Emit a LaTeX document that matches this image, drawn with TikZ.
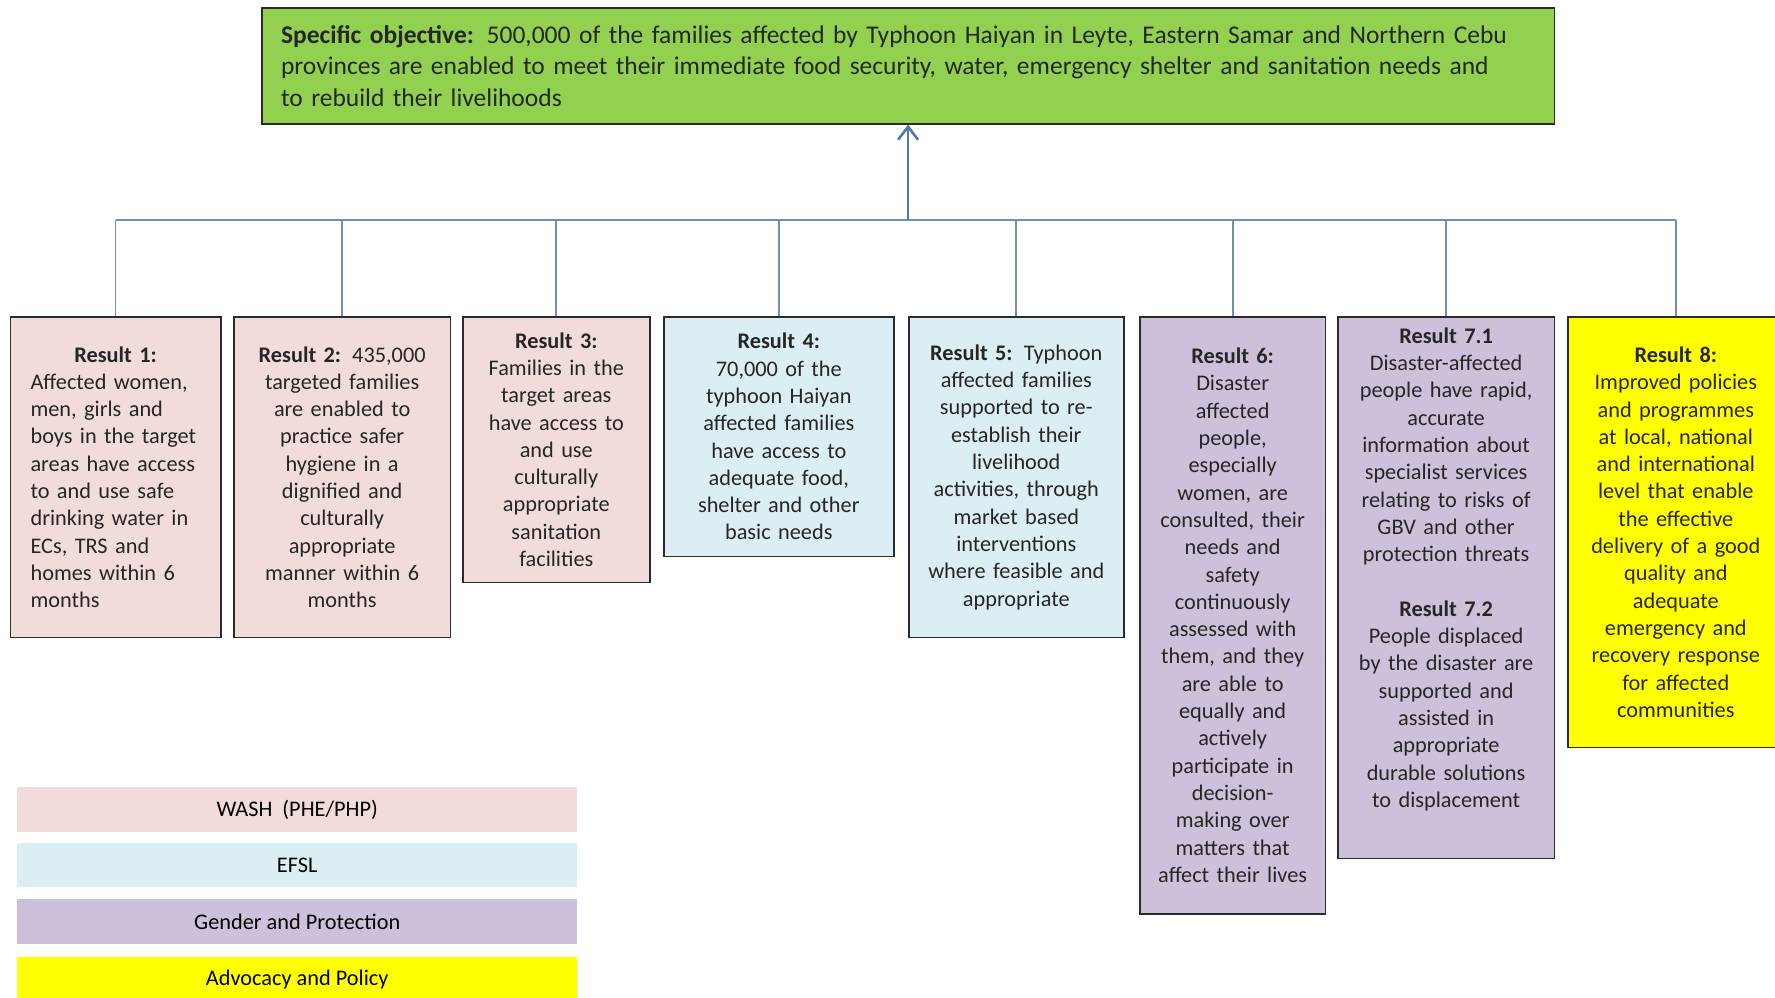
\documentclass[tikz,border=0pt]{standalone}
\usepackage{fontspec}
\setmainfont{Carlito}
\usetikzlibrary{arrows.meta}
\definecolor{objgreen}{HTML}{92D050}
\definecolor{wash}{HTML}{F2DCDB}
\definecolor{efsl}{HTML}{DBEEF4}
\definecolor{gender}{HTML}{CCC0DA}
\definecolor{advoc}{HTML}{FFFF00}
\definecolor{boxline}{HTML}{2B2B2B}
\definecolor{connblue}{HTML}{6F8FB5}
\definecolor{arrblue}{HTML}{4F77AA}
\definecolor{txt}{HTML}{262626}
\begin{document}
\begin{tikzpicture}[x=1pt,y=-1pt,
  box/.style={draw=boxline, line width=1.6pt, rectangle, anchor=north west,
    inner sep=0pt, align=center, text=txt,
    font=\fontsize{22.3}{27.3}\selectfont},
  leg/.style={rectangle, anchor=north west, inner sep=0pt, text=black,
    minimum width=560pt, font=\fontsize{22.3}{27.3}\selectfont},
  conn/.style={draw=connblue, line width=1.8pt},
  arr/.style={draw=arrblue, line width=2.6pt, -{Straight Barb[length=13pt,width=20pt,line width=2.6pt]}}
]
\useasboundingbox (0,0) rectangle (1775,998);

% objective
\node[box, fill=objgreen, minimum width=1292.5pt, minimum height=115.7pt,
  text width=1254pt, align=left, font=\fontsize{25.5}{31.5}\selectfont] (obj) at (261,7.3)
  {\textbf{Specific objective:} 500,000 of the families affected by Typhoon Haiyan in Leyte, Eastern Samar and Northern Cebu\\
   provinces are enabled to meet their immediate food security, water, emergency shelter and sanitation needs and\\
   to rebuild their livelihoods};

% results
\node[box, fill=wash, minimum width=210.5pt, minimum height=320.7pt, text width=170pt, align=left] (r1) at (9.5,316)
  {\makebox[\hsize][c]{\textbf{Result 1:}}\\Affected women,\\men, girls and\\boys in the target\\areas have access\\to and use safe\\drinking water in\\ECs, TRS and\\homes within 6\\months};
\node[box, fill=wash, minimum width=216.7pt, minimum height=320.7pt, text width=200pt] (r2) at (233,316)
  {\textbf{Result 2:} 435,000\\targeted families\\are enabled to\\practice safer\\hygiene in a\\dignified and\\culturally\\appropriate\\manner within 6\\months};
\node[box, fill=wash, minimum width=187pt, minimum height=265.7pt, text width=175pt] (r3) at (462,316)
  {\textbf{Result 3:}\\Families in the\\target areas\\have access to\\and use\\culturally\\appropriate\\sanitation\\facilities};
\node[box, fill=efsl, minimum width=230pt, minimum height=239.7pt, text width=215pt] (r4) at (663,316)
  {\textbf{Result 4:}\\70,000 of the\\typhoon Haiyan\\affected families\\have access to\\adequate food,\\shelter and other\\basic needs};
\node[box, fill=efsl, minimum width=215pt, minimum height=320.7pt, text width=205pt] (r5) at (908,316)
  {\textbf{Result 5:} Typhoon\\affected families\\supported to re-\\establish their\\livelihood\\activities, through\\market based\\interventions\\where feasible and\\appropriate};
\node[box, fill=gender, minimum width=185.7pt, minimum height=597pt, text width=178pt] (r6) at (1139,316)
  {\textbf{Result 6:}\\Disaster\\affected\\people,\\especially\\women, are\\consulted, their\\needs and\\safety\\continuously\\assessed with\\them, and they\\are able to\\equally and\\actively\\participate in\\decision-\\making over\\matters that\\affect their lives};
\node[box, fill=gender, minimum width=216.6pt, minimum height=541.7pt, text width=205pt] (r7) at (1337,316)
  {\textbf{Result 7.1}\\Disaster-affected\\people have rapid,\\accurate\\information about\\specialist services\\relating to risks of\\GBV and other\\protection threats\\[27.3pt]
   \textbf{Result 7.2}\\People displaced\\by the disaster are\\supported and\\assisted in\\appropriate\\durable solutions\\to displacement\\[13pt]\mbox{}};
\node[box, fill=advoc, minimum width=216pt, minimum height=430.7pt, text width=205pt] (r8) at (1567,316)
  {\textbf{Result 8:}\\Improved policies\\and programmes\\at local, national\\and international\\level that enable\\the effective\\delivery of a good\\quality and\\adequate\\emergency and\\recovery response\\for affected\\communities};

% connectors
\coordinate (bar) at (907,220);
\draw[conn] (r1.north |- bar) -- (r8.north |- bar);
\foreach \n in {r1,r2,r3,r4,r5,r6,r7,r8}
  \draw[conn] (\n.north |- bar) -- (\n.north);
\draw[arr] (obj.south |- bar) -- (obj.south);

% legend
\node[leg, fill=wash, minimum height=45pt] (lwash) at (17,787) {WASH\ \ (PHE/PHP)};
\node[leg, fill=efsl, minimum height=44pt] (lefsl) at (17,843) {EFSL};
\node[leg, fill=gender, minimum height=45pt] (lgender) at (17,899) {Gender and Protection};
\node[leg, fill=advoc, minimum height=45pt] (ladv) at (17,957) {Advocacy and Policy};
\end{tikzpicture}
\end{document}
